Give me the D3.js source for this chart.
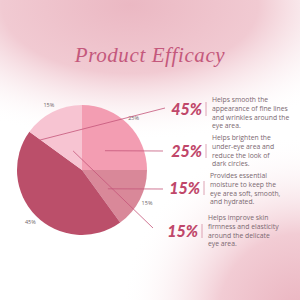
<!DOCTYPE html>
<html>
<head>
<meta charset="utf-8">
<script src="https://cdn.jsdelivr.net/npm/d3@7"></script>
<style>
  body { margin: 0; background: #fff; }
  svg { display: block; }
</style>
</head>
<body>
<div id="chart"></div>
<script>
// pie slices, clockwise from 12 o'clock
var sliceNames = ["Brighten", "Moisture", "Smooth", "Firmness"];
var sliceValues = [25, 15, 45, 15];
var sliceColors = ["#f39db2", "#d98899", "#bb4f6a", "#f7c4d2"];

// right hand callouts
var calloutPct = ["45%", "25%", "15%", "15%"];
var calloutText = [
  ["Helps smooth the", "appearance of fine lines", "and wrinkles around the", "eye area."],
  ["Helps brighten the", "under-eye area and", "reduce the look of", "dark circles."],
  ["Provides essential", "moisture to keep the", "eye area soft, smooth,", "and hydrated."],
  ["Helps improve skin", "firmness and elasticity", "around the delicate", "eye area."]
];
// where each pointer line starts inside the pie (angle in degrees, radius)
var pointerAngle = [305, 50, 126, 335];
var pointerRadius = [52, 30, 32, 21];

var width = 300, height = 300;
var cx = 82, cy = 170, radius = 65;

var svg = d3.select("#chart").append("svg")
    .attr("width", width)
    .attr("height", height);

var defs = svg.append("defs");

var topGrad = defs.append("radialGradient")
    .attr("id", "topGrad")
    .attr("gradientUnits", "userSpaceOnUse")
    .attr("cx", 130).attr("cy", 5).attr("r", 190)
    .attr("gradientTransform", "translate(130,5) scale(1.35,0.72) translate(-130,-5)");
topGrad.append("stop").attr("offset", "0").attr("stop-color", "#ebb8c3");
topGrad.append("stop").attr("offset", "0.5").attr("stop-color", "#f1cad2");
topGrad.append("stop").attr("offset", "1").attr("stop-color", "#ffffff").attr("stop-opacity", 0);

var botGrad = defs.append("radialGradient")
    .attr("id", "botGrad")
    .attr("gradientUnits", "userSpaceOnUse")
    .attr("cx", 300).attr("cy", 315).attr("r", 180);
botGrad.append("stop").attr("offset", "0").attr("stop-color", "#eab3bf");
botGrad.append("stop").attr("offset", "0.45").attr("stop-color", "#f2ccd4");
botGrad.append("stop").attr("offset", "1").attr("stop-color", "#ffffff").attr("stop-opacity", 0);

svg.append("rect").attr("width", width).attr("height", height).attr("fill", "#ffffff");
svg.append("rect").attr("width", width).attr("height", height).attr("fill", "url(#topGrad)");
svg.append("rect").attr("width", width).attr("height", height).attr("fill", "url(#botGrad)");

svg.append("text")
    .attr("x", 150)
    .attr("y", 62)
    .attr("text-anchor", "middle")
    .style("font-family", "'Liberation Serif', serif")
    .style("font-style", "italic")
    .style("font-size", "21px")
    .style("letter-spacing", "0.6px")
    .style("fill", "#c4587c")
    .text("Product Efficacy");

// pie
var pie = d3.pie().sort(null).value(function(d) { return d; });
var arcs = pie(sliceValues);
var arc = d3.arc().innerRadius(0).outerRadius(radius);
var labelArc = d3.arc().innerRadius(73).outerRadius(73);

var g = svg.append("g")
    .attr("transform", "translate(" + cx + "," + cy + ")");

g.selectAll(".slice")
  .data(arcs)
  .enter().append("path")
    .attr("class", "slice")
    .attr("d", arc)
    .style("fill", function(d, i) { return sliceColors[i]; });

g.selectAll(".plabel")
  .data(arcs)
  .enter().append("text")
    .attr("class", "plabel")
    .attr("transform", function(d) { return "translate(" + labelArc.centroid(d) + ")"; })
    .attr("dy", "0.35em")
    .attr("text-anchor", "middle")
    .style("font-family", "'Open Sans', sans-serif")
    .style("font-size", "5.5px")
    .style("fill", "#6e6468")
    .text(function(d) { return d.value + "%"; });

// callout rows
var pctBaseline = [115, 157, 194, 237];
var pctRight = [202, 202, 200, 198];
var textTop = [100, 138, 176, 218];
var lineEnd = [[165, 108], [163, 151], [163, 189], [153, 228]];
var lh = 8.6;

var rows = svg.selectAll(".row")
  .data(calloutPct)
  .enter().append("g")
    .attr("class", "row");

rows.append("line")
    .attr("x1", function(d, i) {
      var a = pointerAngle[i] * Math.PI / 180;
      return cx + pointerRadius[i] * Math.sin(a);
    })
    .attr("y1", function(d, i) {
      var a = pointerAngle[i] * Math.PI / 180;
      return cy - pointerRadius[i] * Math.cos(a);
    })
    .attr("x2", function(d, i) { return lineEnd[i][0]; })
    .attr("y2", function(d, i) { return lineEnd[i][1]; })
    .style("stroke", "#c4567a")
    .style("stroke-width", 0.8);

rows.append("text")
    .attr("x", function(d, i) { return pctRight[i]; })
    .attr("y", function(d, i) { return pctBaseline[i]; })
    .attr("text-anchor", "end")
    .style("font-family", "Lato, sans-serif")
    .style("font-weight", "900")
    .style("font-style", "italic")
    .style("font-size", "16px")
    .style("fill", "#c0476a")
    .text(function(d) { return d; });

rows.append("line")
    .attr("x1", function(d, i) { return pctRight[i] + 4; })
    .attr("x2", function(d, i) { return pctRight[i] + 4; })
    .attr("y1", function(d, i) { return pctBaseline[i] - 13; })
    .attr("y2", function(d, i) { return pctBaseline[i] + 1; })
    .style("stroke", "#d58ea2")
    .style("stroke-width", 0.8);

rows.each(function(d, i) {
  d3.select(this).selectAll(".desc")
    .data(calloutText[i])
    .enter().append("text")
      .attr("class", "desc")
      .attr("x", pctRight[i] + 10)
      .attr("y", function(t, j) { return textTop[i] + j * lh; })
      .attr("dy", "0.35em")
      .style("font-family", "'Open Sans', sans-serif")
      .style("font-size", "6.8px")
      .style("fill", "#7a6870")
      .text(function(t) { return t; });
});
</script>
</body>
</html>
